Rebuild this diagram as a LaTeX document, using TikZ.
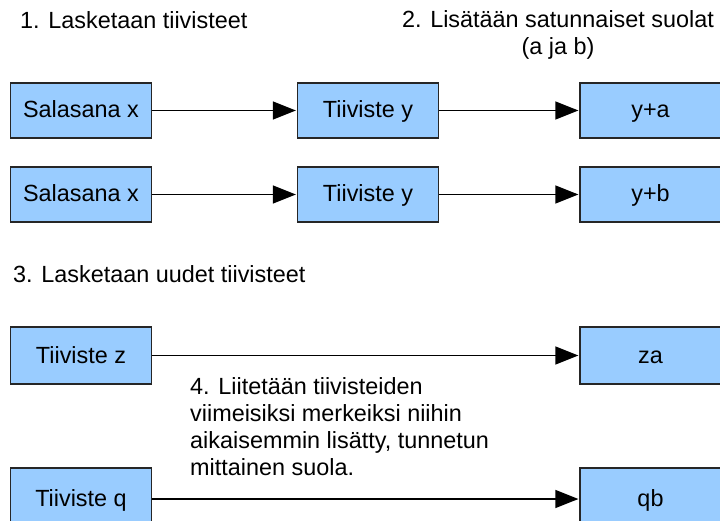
\documentclass[tikz,border=0pt]{standalone}
\usepackage{fontspec}
\setmainfont{Liberation Sans}
\usetikzlibrary{arrows.meta}
\definecolor{laatikkosininen}{HTML}{99CCFF}
\begin{document}
\begin{tikzpicture}[x=1pt, y=-1pt, font=\fontsize{23.4}{27}\selectfont,
		laatikko/.style={draw=black!85, rectangle, fill=laatikkosininen, line width=1.2pt, minimum width=141pt, minimum height=55pt, inner sep=0pt, text height=18pt, text depth=3pt},
		nuoli/.style={-{Triangle[length=23pt,width=18pt]}, line width=1.3pt, shorten >=1pt},
		otsikko/.style={anchor=base west, inner sep=0pt}]
	\useasboundingbox (0,0) rectangle (720,521);
	\clip (0,0) rectangle (720,521);
	% otsikot
	\node[otsikko] (otsikko1) at (20,29) {1. Lasketaan tiivisteet};
	\node[align=center, inner sep=0pt, anchor=north] (otsikko2) at (558,10) {2. Lisätään satunnaiset suolat\\(a ja b)};
	\node[otsikko] (otsikko3) at (13,283) {3. Lasketaan uudet tiivisteet};
	\node[align=left, inner sep=0pt, anchor=north west] (otsikko4) at (190,377) {4. Liitetään tiivisteiden\\viimeisiksi merkeiksi niihin\\aikaisemmin lisätty, tunnetun\\mittainen suola.};
	% rivit 1 ja 2
	\node[laatikko] (salasana1) at (81,110.5) {Salasana x};
	\node[laatikko] (tiiviste1) at (368,110.5) {Tiiviste y};
	\node[laatikko] (suola1) at (650.5,110.5) {y+a};
	\node[laatikko] (salasana2) at (81,194.5) {Salasana x};
	\node[laatikko] (tiiviste2) at (368,194.5) {Tiiviste y};
	\node[laatikko] (suola2) at (650.5,194.5) {y+b};
	% rivit 3 ja 4
	\node[laatikko, minimum height=57pt] (tiivistez) at (81,355.5) {Tiiviste z};
	\node[laatikko, minimum height=57pt] (za) at (650.5,355.5) {za};
	\node[laatikko, minimum height=62pt] (tiivisteq) at (81,499) {Tiiviste q};
	\node[laatikko, minimum height=62pt] (qb) at (650.5,499) {qb};
	% nuolet
	\draw[nuoli] (salasana1) -- (tiiviste1);
	\draw[nuoli] (tiiviste1) -- (suola1);
	\draw[nuoli] (salasana2) -- (tiiviste2);
	\draw[nuoli] (tiiviste2) -- (suola2);
	\draw[nuoli] (tiivistez) -- (za);
	\draw[nuoli] (tiivisteq) -- (qb);
\end{tikzpicture}
\end{document}
